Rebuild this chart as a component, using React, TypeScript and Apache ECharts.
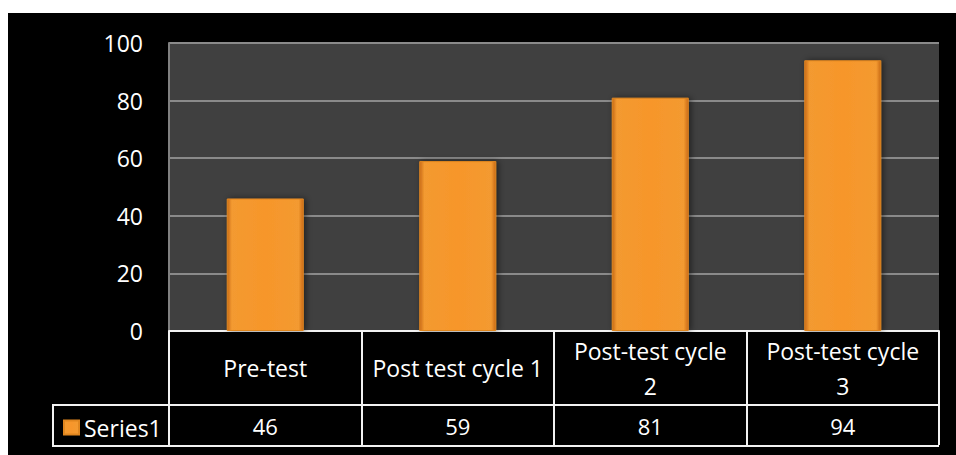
import React, { useEffect, useRef } from "react";
import * as echarts from "echarts";

const categories = ["Pre-test", "Post test cycle 1", "Post-test cycle\n2", "Post-test cycle\n3"];
const seriesName = "Series1";
const seriesValues = [46, 59, 81, 94];
const yTicks = { min: 0, max: 100, interval: 20 };

const FONT = "'Open Sans', 'Noto Sans', sans-serif";

export default function App() {
  const ref = useRef<HTMLDivElement>(null);
  useEffect(() => {
    document.body.style.overflow = "hidden";
    const chart = echarts.init(ref.current!, null, { renderer: "svg" });
    const barGradient = new echarts.graphic.LinearGradient(0, 0, 1, 0, [
      { offset: 0, color: "#c96a18" },
      { offset: 0.06, color: "#f39a30" },
      { offset: 0.5, color: "#f7962b" },
      { offset: 0.94, color: "#f39a30" },
      { offset: 1, color: "#c96a18" },
    ]);
    const lineColor = "#f2f2f2";
    chart.setOption({
      animation: false,
      backgroundColor: "#000000",
      textStyle: { fontFamily: FONT },
      grid: {
        left: 161,
        right: 17,
        top: 30,
        bottom: 124,
        show: true,
        backgroundColor: "#404040",
        borderWidth: 0,
      },
      legend: {
        data: [seriesName],
        left: 50,
        top: 398,
        icon: "rect",
        itemWidth: 15,
        itemHeight: 14,
        textStyle: { color: "#ffffff", fontSize: 23, fontFamily: FONT },
      },
      xAxis: [
        {
          type: "category",
          data: categories,
          position: "bottom",
          axisLine: { show: true, lineStyle: { color: lineColor, width: 2 } },
          axisTick: {
            show: true,
            alignWithLabel: false,
            interval: 0,
            length: 114,
            lineStyle: { color: lineColor, width: 2 },
          },
          axisLabel: {
            interval: 0,
            color: "#ffffff",
            fontSize: 23,
            fontFamily: FONT,
            lineHeight: 35,
            margin: 37,
            verticalAlign: "middle",
          },
          splitLine: { show: false },
        },
        {
          type: "category",
          data: categories,
          position: "bottom",
          axisLine: { show: false },
          axisTick: { show: false },
          axisLabel: {
            interval: 0,
            color: "#ffffff",
            fontSize: 22,
            fontFamily: FONT,
            margin: 95,
            verticalAlign: "middle",
            formatter: (_v: string, i: number) => String(seriesValues[i]),
          },
        },
      ],
      yAxis: {
        type: "value",
        min: yTicks.min,
        max: yTicks.max,
        interval: yTicks.interval,
        axisLine: { show: true, lineStyle: { color: "#808080", width: 2 } },
        axisTick: { show: false },
        axisLabel: { color: "#ffffff", fontSize: 23, fontFamily: FONT, margin: 26 },
        splitLine: { show: true, lineStyle: { color: "#8a8a8a", width: 2 } },
      },
      series: [
        {
          name: seriesName,
          type: "bar",
          xAxisIndex: 0,
          data: seriesValues,
          barWidth: "40%",
          itemStyle: {
            color: barGradient,
            borderColor: "#e0861f",
            borderWidth: 1,
            shadowColor: "rgba(0,0,0,0.5)",
            shadowBlur: 6,
            shadowOffsetX: 2,
          },
        },
      ],
      graphic: [
        {
          type: "line",
          shape: { x1: 45, y1: 392, x2: 931, y2: 392 },
          style: { stroke: lineColor, lineWidth: 2 },
        },
        {
          type: "line",
          shape: { x1: 45, y1: 433, x2: 931, y2: 433 },
          style: { stroke: lineColor, lineWidth: 2 },
        },
        {
          type: "line",
          shape: { x1: 45, y1: 391, x2: 45, y2: 434 },
          style: { stroke: lineColor, lineWidth: 2 },
        },
      ],
    });
    return () => chart.dispose();
  }, []);
  return (
    <div
      ref={ref}
      style={{ position: "absolute", left: 8, top: 13, width: 948, height: 442 }}
    />
  );
}
